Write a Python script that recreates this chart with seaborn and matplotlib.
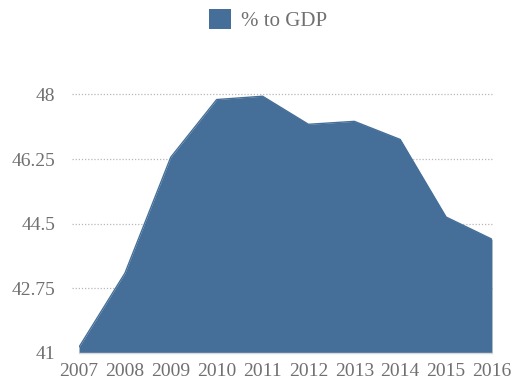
import matplotlib
matplotlib.use("Agg")
import matplotlib.pyplot as plt
import seaborn as sns
import pandas as pd
from matplotlib.patches import Patch

years = [2007, 2008, 2009, 2010, 2011, 2012, 2013, 2014, 2015, 2016]
pct_to_gdp = [41.16, 43.16, 46.3, 47.86, 47.95, 47.19, 47.27, 46.78, 44.68, 44.08]
y_ticks = [41, 42.75, 44.5, 46.25, 48]
y_tick_labels = ["41", "42.75", "44.5", "46.25", "48"]
series_name = "% to GDP"

df = pd.DataFrame({"year": years, "value": pct_to_gdp})

sns.set_theme(style="white")
plt.rcParams["font.family"] = ["Liberation Serif", "DejaVu Serif"]

fill_color = "#456f98"
text_color = "#707070"

fig = plt.figure(figsize=(5.13, 3.86), dpi=100)
ax = fig.add_axes([0.154, 0.0855, 0.805, 0.670])

ax.fill_between(df["year"], 41, df["value"], color=fill_color, linewidth=0, zorder=2)
sns.lineplot(data=df, x="year", y="value", ax=ax, color=fill_color, linewidth=1, zorder=3)

ax.set_xlim(years[0], years[-1])
ax.set_ylim(41, 48)
ax.set_xticks(years)
ax.set_xticklabels([str(y) for y in years])
ax.set_yticks(y_ticks)
ax.set_yticklabels(y_tick_labels)
ax.set_xlabel("")
ax.set_ylabel("")

for t in y_ticks[1:]:
    ax.axhline(t, color="#b8b8b8", linestyle=(0, (1, 1.5)), linewidth=0.9, zorder=1,
               xmin=-0.017, xmax=1.0, clip_on=False)

for side in ["top", "right", "left"]:
    ax.spines[side].set_visible(False)
ax.spines["bottom"].set_color("#d8d8d8")
ax.spines["bottom"].set_linewidth(1)

ax.tick_params(axis="both", length=0, labelsize=14, colors=text_color)
ax.tick_params(axis="y", pad=17)
ax.tick_params(axis="x", pad=7)

handle = Patch(facecolor=fill_color, edgecolor="none")
fig.legend([handle], [series_name], loc="center", bbox_to_anchor=(0.522, 0.948),
           frameon=False, fontsize=15, handlelength=1.1, handleheight=1.1,
           handletextpad=0.45, labelcolor=text_color)

fig.savefig("out.png", dpi=100, facecolor="white")
